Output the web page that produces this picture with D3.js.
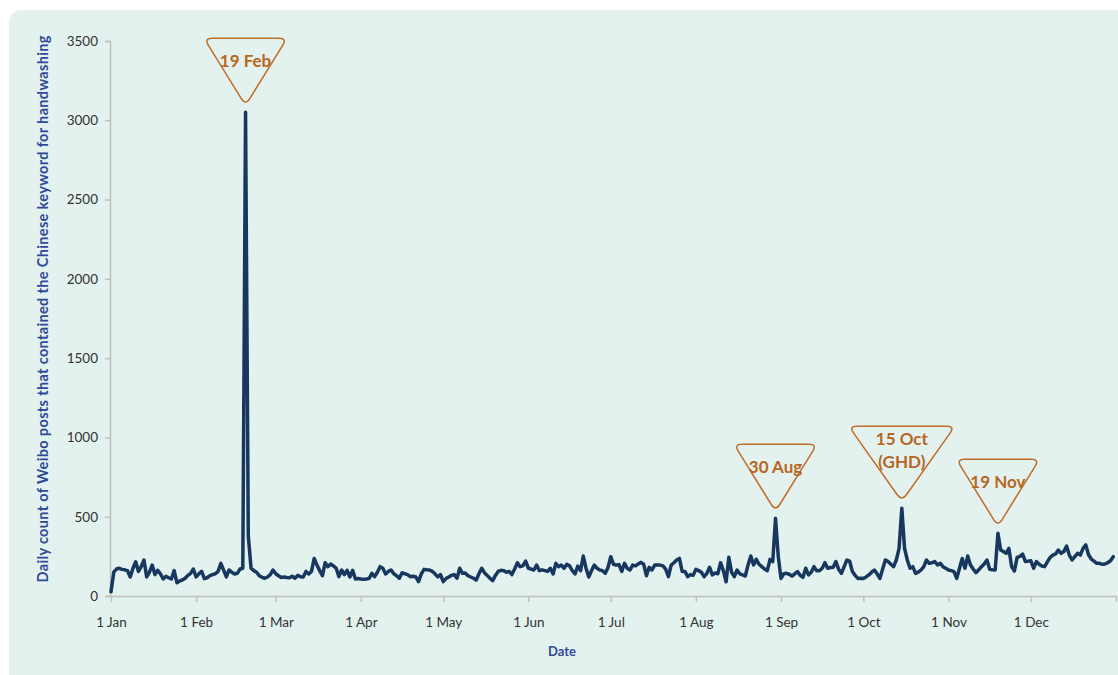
<!DOCTYPE html>
<html lang="en">
<head>
    <meta charset="UTF-8">
    <title>Daily Weibo posts - handwashing</title>
    <script src="https://d3js.org/d3.v7.min.js"></script>
    <style>
        body { margin: 0; background: #fff; }
        #chart { width: 1118px; height: 675px; }
        text { font-family: Lato, "Open Sans", sans-serif; }
        .axis-title { font-weight: bold; fill: #2f4a9a; }
        .note { font-weight: bold; fill: #b8661f; font-size: 17px; }
    </style>
</head>
<body>
    <div id="chart"></div>

    <script>
        // Months of the (leap) year, daily counts
        const jan = [27, 150, 170, 175, 168, 165, 160, 120, 175, 216, 155, 185, 227, 120, 150, 195, 135, 162, 140, 107, 124, 115, 107, 160, 84, 95, 101, 112, 130, 143, 170];
        const feb = [120, 140, 155, 109, 115, 128, 135, 140, 155, 206, 164, 120, 164, 150, 139, 143, 170, 175, 3050, 380, 175, 160, 150, 128, 118, 112, 120, 135, 164];
        const mar = [140, 128, 117, 120, 117, 115, 125, 112, 130, 122, 120, 155, 139, 155, 237, 195, 160, 128, 210, 185, 202, 190, 175, 122, 164, 135, 162, 120, 162, 107, 110];
        const apr = [107, 105, 107, 110, 143, 122, 150, 185, 175, 139, 155, 164, 140, 128, 112, 147, 140, 135, 122, 125, 120, 91, 140, 168, 165, 164, 155, 140, 120, 135];
        const may = [91, 110, 120, 130, 135, 112, 175, 143, 145, 128, 120, 112, 101, 140, 175, 147, 130, 112, 97, 130, 155, 162, 160, 150, 155, 135, 170, 210, 185, 190, 220];
        const jun = [175, 170, 164, 195, 160, 165, 160, 155, 175, 139, 206, 185, 195, 175, 200, 190, 160, 139, 189, 160, 252, 175, 120, 160, 195, 175, 164, 160, 143, 180];
        const jul = [248, 200, 195, 198, 155, 206, 175, 164, 195, 190, 202, 212, 200, 128, 181, 164, 195, 195, 195, 190, 170, 122, 195, 210, 227, 237, 155, 155, 122, 135, 130];
        const aug = [168, 160, 150, 122, 143, 181, 133, 145, 140, 210, 160, 90, 244, 150, 122, 164, 140, 133, 126, 196, 252, 196, 231, 200, 185, 170, 160, 231, 217, 490, 250];
        const sep = [111, 140, 143, 137, 126, 140, 154, 130, 118, 175, 133, 150, 185, 160, 160, 175, 210, 175, 180, 181, 217, 168, 143, 185, 227, 220, 154, 130, 111, 112];
        const oct = [111, 120, 133, 150, 164, 140, 111, 168, 227, 217, 200, 185, 227, 300, 553, 300, 227, 175, 185, 143, 150, 164, 185, 227, 206, 210, 217, 196, 206, 185, 175];
        const nov = [164, 160, 154, 111, 175, 237, 175, 252, 196, 170, 147, 165, 185, 202, 227, 168, 165, 164, 395, 290, 280, 269, 300, 185, 158, 243, 250, 264, 217, 220];
        const dec = [222, 175, 217, 200, 189, 185, 215, 243, 258, 265, 290, 269, 280, 315, 258, 227, 248, 269, 258, 300, 322, 260, 233, 220, 206, 206, 200, 202, 210, 222, 248];

        const counts = [].concat(jan, feb, mar, apr, may, jun, jul, aug, sep, oct, nov, dec);
        const yTicks = [0, 500, 1000, 1500, 2000, 2500, 3000, 3500];

        // Callouts
        const noteDates = ["2020-02-19", "2020-08-30", "2020-10-15", "2020-11-19"];
        const noteLabels = [["19 Feb"], ["30 Aug"], ["15 Oct", "(GHD)"], ["19 Nov"]];

        const start = new Date(2020, 0, 1), end = new Date(2021, 0, 1);
        const data = counts.map((v, i) => ({ date: d3.timeDay.offset(start, i), value: v }));

        const width = 1118, height = 675;
        const svg = d3.select("#chart").append("svg")
            .attr("width", width).attr("height", height);

        // fond arrondi
        svg.append("rect")
            .attr("x", 9).attr("y", 10)
            .attr("width", width + 20).attr("height", height)
            .attr("rx", 12)
            .attr("fill", "#e3f2ee");

        const x = d3.scaleTime().domain([start, end]).range([111, 1116]);
        const y = d3.scaleLinear().domain([0, 3500]).range([596, 41]);

        // Axes
        const months = d3.timeMonth.range(start, d3.timeDay.offset(end, 1));
        const fmt = d3.timeFormat("%-d %b");
        const xAxis = d3.axisBottom(x)
            .tickValues(months)
            .tickSize(6)
            .tickPadding(15)
            .tickFormat(d => +d === +end ? "" : fmt(d));
        const gx = svg.append("g").attr("transform", "translate(0,596)").call(xAxis);

        const yAxis = d3.axisLeft(y).tickValues(yTicks).tickSize(5).tickPadding(7)
            .tickFormat(d3.format("d"));
        const gy = svg.append("g").attr("transform", "translate(110,0)").call(yAxis);

        [gx, gy].forEach(g => {
            g.select(".domain").attr("stroke", "#c0c0c0").attr("stroke-width", 1.5);
            g.selectAll(".tick line").attr("stroke", "#c0c0c0").attr("stroke-width", 1.5);
            g.selectAll(".tick text").attr("fill", "#333").attr("font-size", 13.5)
                .attr("font-family", "Lato, sans-serif");
        });
        gx.select(".domain").attr("d", "M110.5,0.5H1117");

        // Titres des axes
        svg.append("text")
            .attr("class", "axis-title")
            .attr("transform", "translate(48,309) rotate(-90)")
            .attr("text-anchor", "middle")
            .attr("font-size", 14.5)
            .attr("textLength", 547)
            .text("Daily count of Weibo posts that contained the Chinese keyword for handwashing");

        svg.append("text")
            .attr("class", "axis-title")
            .attr("x", 562).attr("y", 656)
            .attr("text-anchor", "middle")
            .attr("font-size", 13)
            .text("Date");

        // Courbe
        const line = d3.line().x(d => x(d.date)).y(d => y(d.value));
        svg.append("path")
            .datum(data)
            .attr("d", line)
            .attr("fill", "none")
            .attr("stroke", "#17375e")
            .attr("stroke-width", 3.5)
            .attr("stroke-linejoin", "round")
            .attr("stroke-linecap", "round");

        // triangle arrondi
        function roundedTri(cx, top, hw, h, r) {
            const A = [cx - hw, top], B = [cx + hw, top], C = [cx, top + h];
            const toward = (p, q, d) => {
                const len = Math.hypot(q[0] - p[0], q[1] - p[1]);
                return [p[0] + (q[0] - p[0]) * d / len, p[1] + (q[1] - p[1]) * d / len];
            };
            const p = d3.path();
            const s = toward(A, B, r);
            p.moveTo(...s);
            p.lineTo(...toward(B, A, r));
            p.quadraticCurveTo(B[0], B[1], ...toward(B, C, r));
            p.lineTo(...toward(C, B, r));
            p.quadraticCurveTo(C[0], C[1], ...toward(C, A, r));
            p.lineTo(...toward(A, C, r));
            p.quadraticCurveTo(A[0], A[1], ...s);
            p.closePath();
            return p.toString();
        }

        noteDates.forEach((ds, i) => {
            const d = data.find(e => fmt(e.date) === fmt(new Date(ds + "T00:00")));
            const cx = x(d.date);
            const apex = y(d.value) - 7;
            const lines = noteLabels[i];
            const h = lines.length > 1 ? 75 : 67;
            const hw = lines.length > 1 ? 53 : 41.5;
            const top = apex - h;
            svg.append("path")
                .attr("d", roundedTri(cx, top, hw, h, 8))
                .attr("fill", "none")
                .attr("stroke", "#c06d2a")
                .attr("stroke-width", 1.5);
            lines.forEach((t, j) => {
                svg.append("text")
                    .attr("class", "note")
                    .attr("x", cx)
                    .attr("y", top + (lines.length > 1 ? 19 + j * 23 : 29))
                    .attr("text-anchor", "middle")
                    .text(t);
            });
        });
    </script>
</body>
</html>
